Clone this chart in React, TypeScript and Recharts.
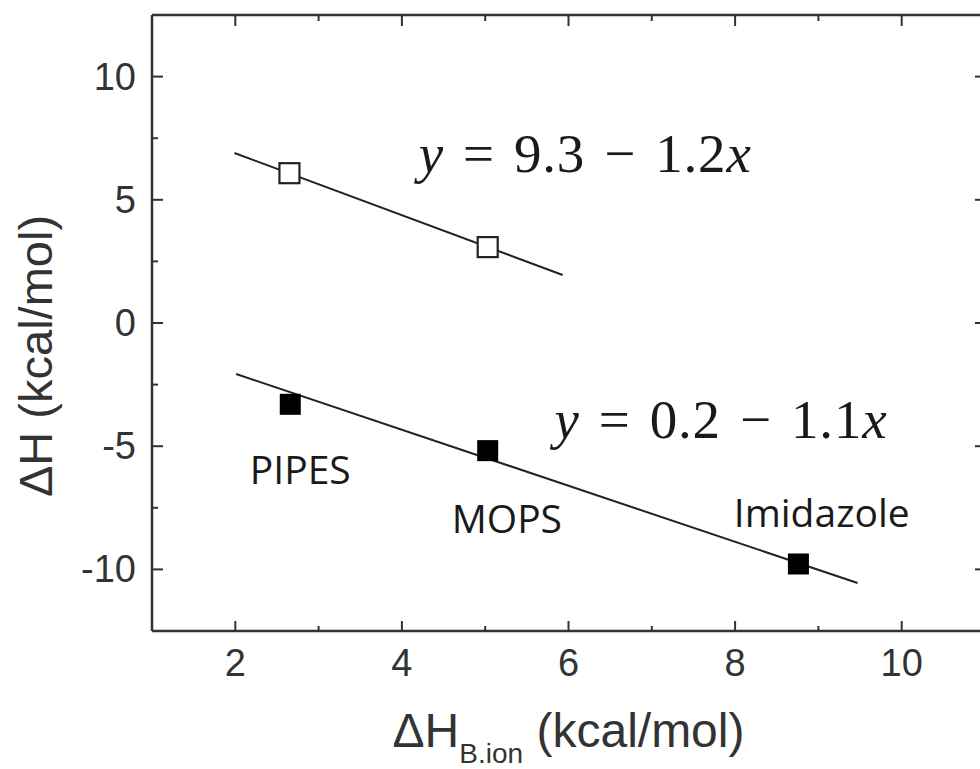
import React from 'react';
import { ScatterChart, Scatter, XAxis, YAxis, ReferenceLine } from 'recharts';

// values
const xMajorTicks = [2, 4, 6, 8, 10];
const xMinorTicks = [3, 5, 7, 9];
const yMajorTicks = [-10, -5, 0, 5, 10];
const yMinorTicks = [-7.5, -2.5, 2.5, 7.5];
const xDomain = [1, 11];
const yDomain = [-12.5, 12.5];

const openSquares = [
  { x: 2.65, y: 6.08 },
  { x: 5.03, y: 3.08 },
];

const filledSquares = [
  { x: 2.66, y: -3.3 },
  { x: 5.03, y: -5.18 },
  { x: 8.76, y: -9.78 },
];

const fitUpper = [
  { x: 1.99, y: 6.9 },
  { x: 5.93, y: 1.95 },
];

const fitLower = [
  { x: 2.01, y: -2.07 },
  { x: 9.47, y: -10.55 },
];

const bufferLabels = [
  { x: 2.78, y: -6.53, text: 'PIPES' },
  { x: 5.26, y: -8.52, text: 'MOPS' },
  { x: 9.04, y: -8.28, text: 'Imidazole' },
];

const equations = [
  { x: 6.2, y: 6.13, a: '9.3', b: '1.2' },
  { x: 7.83, y: -4.67, a: '0.2', b: '1.1' },
];

const AXIS = '#333';
const SANS = '"Liberation Sans", Arial, sans-serif';
const SERIF = '"Liberation Serif", "Times New Roman", serif';

// chart frame
const CHART_W = 990;
const CHART_H = 769;
const TOP_GAP = 15;
const RIGHT_GAP = 5;
const Y_AXIS_W = 152;
const X_AXIS_H = 138;
const PLOT_LEFT = Y_AXIS_W;
const PLOT_TOP = TOP_GAP;
const PLOT_RIGHT = CHART_W - RIGHT_GAP;
const PLOT_BOTTOM = CHART_H - X_AXIS_H;

const xTicks = [...xMajorTicks, ...xMinorTicks].sort((a, b) => a - b);
const yTicks = [...yMajorTicks, ...yMinorTicks].sort((a, b) => a - b);
// mirrored tick marks on the top and right frame, placed through the chart scales
const topTickMarks = xTicks.map((v) => ({ x: v, y: yDomain[1], major: xMajorTicks.includes(v) }));
const rightTickMarks = yTicks.map((v) => ({ x: xDomain[1], y: v, major: yMajorTicks.includes(v) }));

function BottomTick(props: any) {
  const { payload } = props;
  const x = payload.coordinate ?? props.x;
  const major = xMajorTicks.includes(payload.value);
  return (
    <g>
      <line x1={x} x2={x} y1={PLOT_BOTTOM} y2={PLOT_BOTTOM - (major ? 10 : 5)} stroke={AXIS} strokeWidth={2} />
      {major && (
        <text x={x} y={PLOT_BOTTOM + 45} textAnchor="middle" fontSize={38} fontFamily={SANS} fill={AXIS}>
          {payload.value}
        </text>
      )}
    </g>
  );
}

function LeftTick(props: any) {
  const { payload } = props;
  const y = payload.coordinate ?? props.y;
  const major = yMajorTicks.includes(payload.value);
  return (
    <g>
      <line x1={PLOT_LEFT} x2={PLOT_LEFT + (major ? 11 : 6)} y1={y} y2={y} stroke={AXIS} strokeWidth={2} />
      {major && (
        <text x={PLOT_LEFT - 16} y={y + 13} textAnchor="end" fontSize={38} fontFamily={SANS} fill={AXIS}>
          {payload.value}
        </text>
      )}
    </g>
  );
}

const emptyShape = () => <g />;

// axis titles, laid over the chart in their own transparent layer
function AxisTitles() {
  const midX = (PLOT_LEFT + PLOT_RIGHT) / 2;
  const midY = (PLOT_TOP + PLOT_BOTTOM) / 2;
  return (
    <svg
      width={980}
      height={769}
      style={{ position: 'absolute', left: 0, top: 0, pointerEvents: 'none', overflow: 'hidden' }}
    >
      <text x={midX} y={PLOT_BOTTOM + 116} textAnchor="middle" fontSize={48} fontFamily={SANS} fill={AXIS}>
        <tspan>ΔH</tspan>
        <tspan fontSize={28} dy={16}>B.ion</tspan>
        <tspan dy={-16}> (kcal/mol)</tspan>
      </text>
      <text
        transform={`translate(52, ${midY + 33}) rotate(-90)`}
        textAnchor="middle"
        fontSize={47}
        fontFamily={SANS}
        fill={AXIS}
      >
        ΔH (kcal/mol)
      </text>
    </svg>
  );
}

export default function App() {
  return (
    <div style={{ position: 'absolute', left: 0, top: 0, width: 980, height: 769, overflow: 'hidden', background: '#fff' }}>
      <ScatterChart width={CHART_W} height={CHART_H} margin={{ top: TOP_GAP, right: RIGHT_GAP, left: 0, bottom: 0 }}>
        <XAxis
          dataKey="x"
          type="number"
          domain={xDomain}
          allowDataOverflow
          ticks={xTicks}
          interval={0}
          height={X_AXIS_H}
          tickSize={0}
          tickMargin={0}
          tickLine={false}
          axisLine={{ stroke: AXIS, strokeWidth: 2.5 }}
          tick={BottomTick}
        />
        <YAxis
          dataKey="y"
          type="number"
          domain={yDomain}
          allowDataOverflow
          ticks={yTicks}
          interval={0}
          width={Y_AXIS_W}
          tickSize={0}
          tickMargin={0}
          tickLine={false}
          axisLine={{ stroke: AXIS, strokeWidth: 2.5 }}
          tick={LeftTick}
        />

        <ReferenceLine y={yDomain[1]} stroke={AXIS} strokeWidth={2.5} ifOverflow="visible" />
        <ReferenceLine x={xDomain[1]} stroke={AXIS} strokeWidth={2.5} ifOverflow="visible" />
        <Scatter
          data={topTickMarks}
          isAnimationActive={false}
          shape={(p: any) => (
            <line x1={p.cx} x2={p.cx} y1={p.cy} y2={p.cy + (p.payload.major ? 11 : 6)} stroke={AXIS} strokeWidth={2} />
          )}
        />
        <Scatter
          data={rightTickMarks}
          isAnimationActive={false}
          shape={(p: any) => (
            <line x1={p.cx} x2={p.cx - (p.payload.major ? 10 : 5)} y1={p.cy} y2={p.cy} stroke={AXIS} strokeWidth={2} />
          )}
        />

        <Scatter data={fitUpper} line={{ stroke: '#222', strokeWidth: 2 }} shape={emptyShape} isAnimationActive={false} />
        <Scatter data={fitLower} line={{ stroke: '#222', strokeWidth: 2 }} shape={emptyShape} isAnimationActive={false} />

        <Scatter
          data={openSquares}
          isAnimationActive={false}
          shape={(p: any) => (
            <rect x={p.cx - 10} y={p.cy - 10} width={20} height={20} fill="#fff" stroke="#222" strokeWidth={2.2} />
          )}
        />
        <Scatter
          data={filledSquares}
          isAnimationActive={false}
          shape={(p: any) => <rect x={p.cx - 10.5} y={p.cy - 10.5} width={21} height={21} fill="#000" />}
        />

        <Scatter
          data={bufferLabels}
          isAnimationActive={false}
          shape={(p: any) => (
            <text x={p.cx} y={p.cy} textAnchor="middle" fontSize={39} fontFamily='"Open Sans", sans-serif' fill="#1a1a1a">
              {p.payload.text}
            </text>
          )}
        />
        <Scatter
          data={equations}
          isAnimationActive={false}
          shape={(p: any) => (
            <text
              x={p.cx}
              y={p.cy}
              textAnchor="middle"
              fontSize={55}
              letterSpacing={0.8}
              fontFamily={SERIF}
              fill="#1a1a1a"
            >
              <tspan fontStyle="italic">y</tspan>
              {`\u2004=\u2004${p.payload.a}\u2004\u2212\u2004${p.payload.b}`}
              <tspan fontStyle="italic">x</tspan>
            </text>
          )}
        />
      </ScatterChart>
      <AxisTitles />
    </div>
  );
}
